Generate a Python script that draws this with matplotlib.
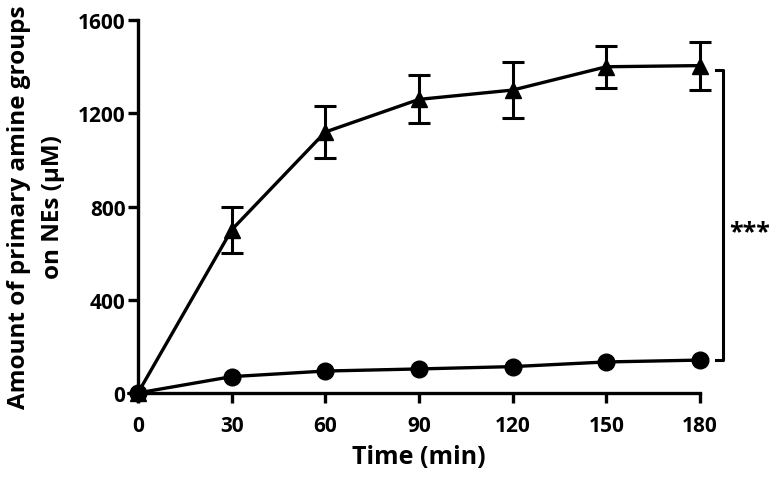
import matplotlib
matplotlib.use('Agg')
import matplotlib.pyplot as plt

# time points (min)
time = [0, 30, 60, 90, 120, 150, 180]

# triangle series (with error bars)
amine_tri = [0, 700, 1120, 1260, 1300, 1400, 1405]
err_tri = [0, 100, 112, 103, 120, 90, 103]

# circle series
amine_circ = [0, 70, 94, 103, 113, 133, 141]
err_circ = [0, 5, 6, 6, 6, 7, 7]

plt.rcParams['font.family'] = ['Open Sans', 'DejaVu Sans']
plt.rcParams['font.weight'] = 'bold'

fig = plt.figure(figsize=(7.73, 4.81), dpi=100)
ax = fig.add_axes([0.1785, 0.181, 0.727, 0.775])

ax.errorbar(time, amine_tri, yerr=err_tri, color='black', marker='^', markersize=11,
            linewidth=2.4, elinewidth=2.2, capsize=8, capthick=2.2, clip_on=False, zorder=3)
ax.errorbar(time, amine_circ, yerr=err_circ, color='black', marker='o', markersize=12,
            linewidth=2.4, elinewidth=2.2, capsize=6, capthick=2.2, clip_on=False, zorder=3)

ax.set_xlim(0, 180)
ax.set_ylim(0, 1600)
ax.set_xticks(time)
ax.set_yticks([0, 400, 800, 1200, 1600])

for s in ['top', 'right']:
    ax.spines[s].set_visible(False)
for s in ['left', 'bottom']:
    ax.spines[s].set_linewidth(2.4)

ax.tick_params(axis='both', width=2.4, length=7, labelsize=15)
ax.tick_params(axis='y', pad=2)
ax.tick_params(axis='x', pad=9)

ax.set_xlabel('Time (min)', fontsize=18, fontweight='bold', labelpad=6)
ax.set_ylabel('Amount of primary amine groups\non NEs (\u03bcM)', fontsize=17.5,
              fontweight='bold', labelpad=9, linespacing=1.6)

# significance bracket between the two final points
bx = 187.5
ax.plot([185, bx, bx, 185], [amine_tri[-1] - 20, amine_tri[-1] - 20, amine_circ[-1], amine_circ[-1]],
        color='black', linewidth=2.2, clip_on=False)
ax.text(bx + 1.8, 690, '***', fontsize=18,
        fontweight='bold', va='center', ha='left')

fig.savefig('out.png', dpi=100)
